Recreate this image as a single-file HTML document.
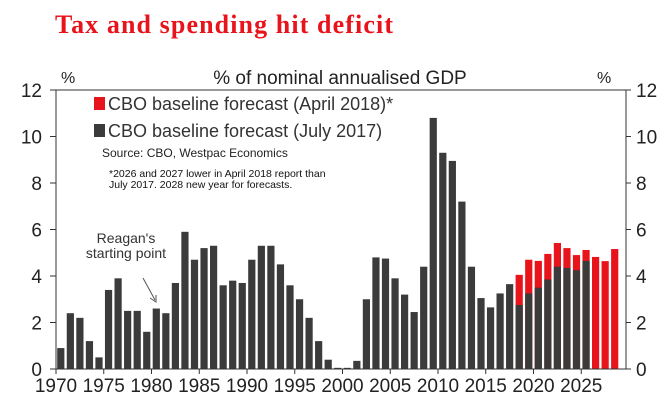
<!DOCTYPE html>
<html><head><meta charset="utf-8"><style>
body{margin:0;background:#fff;}
svg{display:block;font-family:"Liberation Sans",sans-serif;}
</style></head><body>
<svg id="chart" width="672" height="411">
<text x="55" y="33" font-family="Liberation Serif,serif" font-weight="bold" font-size="26" fill="#e8141c" textLength="338" lengthAdjust="spacing">Tax and spending hit deficit</text>
<text x="61" y="83" font-size="16" fill="#222">%</text>
<text x="597" y="83" font-size="16" fill="#222">%</text>
<text x="340" y="84" font-size="19" fill="#222" text-anchor="middle">% of nominal annualised GDP</text>
<g id="bars"></g>
<g id="axes"></g>
<rect x="94" y="97" width="11" height="13" fill="#e8141c"/>
<text x="108" y="110" font-size="18" fill="#333">CBO baseline forecast (April 2018)*</text>
<rect x="94" y="124" width="11" height="13" fill="#3b3b3b"/>
<text x="108" y="137" font-size="18" fill="#333">CBO baseline forecast (July 2017)</text>
<text x="102" y="157" font-size="12" fill="#222">Source: CBO, Westpac Economics</text>
<text x="109" y="177" font-size="10.5" fill="#111">*2026 and 2027 lower in April 2018 report than</text>
<text x="109" y="188" font-size="10.5" fill="#111">July 2017. 2028 new year for forecasts.</text>
<text x="126" y="243" font-size="14" fill="#333" text-anchor="middle">Reagan's</text>
<text x="126" y="258" font-size="14" fill="#333" text-anchor="middle">starting point</text>
<line x1="143" y1="278" x2="155" y2="300" stroke="#555" stroke-width="1"/>
<path d="M150,298 L156,302 L156,295" fill="none" stroke="#555" stroke-width="1"/>
</svg>
<script>
const years = [];
for (let y = 1970; y <= 2028; y++) years.push(y);
const july2017 = [0.9,2.4,2.2,1.2,0.5,3.4,3.9,2.5,2.5,1.6,2.6,2.4,3.7,5.9,4.7,5.2,5.3,3.6,3.8,3.7,4.7,5.3,5.3,4.5,3.6,3.0,2.2,1.2,0.4,0.05,0.05,0.35,3.0,4.8,4.75,3.9,3.2,2.45,4.4,10.8,9.3,8.95,7.2,4.4,3.05,2.65,3.25,3.65,2.75,3.25,3.5,3.85,4.4,4.35,4.25,4.65,0,0,0];
const april2018 = [null,null,null,null,null,null,null,null,null,null,null,null,null,null,null,null,null,null,null,null,null,null,null,null,null,null,null,null,null,null,null,null,null,null,null,null,null,null,null,null,null,null,null,null,null,null,null,null,4.05,4.7,4.65,4.95,5.42,5.2,4.9,5.12,4.82,4.64,5.16];
const yTicks = [0,2,4,6,8,10,12];
const xTickYears = [1970,1975,1980,1985,1990,1995,2000,2005,2010,2015,2020,2025];

const NS = "http://www.w3.org/2000/svg";
const X0 = 56, PER = 9.55, Y0 = 369, PERU = 23.25, XR = 626;
const xs = y => X0 + (y - 1970) * PER;
const ys = v => Y0 - v * PERU;
function mk(tag, attrs, parent) {
  const e = document.createElementNS(NS, tag);
  for (const k in attrs) e.setAttribute(k, attrs[k]);
  parent.appendChild(e);
  return e;
}
const bars = document.getElementById('bars');
const axes = document.getElementById('axes');
years.forEach((yr, i) => {
  const x = xs(yr) + 1.2, w = 7.2;
  const a = april2018[i];
  if (a != null && a > july2017[i]) {
    const r = mk('rect', {x: x, y: ys(a), width: w, height: Y0 - ys(a), fill: '#e8141c'}, bars);
    
    
  }
  if (july2017[i] > 0) {
    const r = mk('rect', {x: x, y: ys(july2017[i]), width: w, height: Y0 - ys(july2017[i]), fill: '#3b3b3b'}, bars);
    
    
  }
});
const la = mk('line', {x1: X0, y1: ys(12), x2: X0, y2: Y0, stroke: '#333'}, axes);


const ra = mk('line', {x1: XR, y1: ys(12), x2: XR, y2: Y0, stroke: '#333'}, axes);


const xa = mk('line', {x1: X0, y1: Y0, x2: XR, y2: Y0, stroke: '#333'}, axes);


const ta = mk('line', {x1: 50, y1: ys(12), x2: XR, y2: ys(12), stroke: '#333'}, axes);


yTicks.forEach(v => {
  mk('line', {x1: 50, y1: ys(v), x2: X0, y2: ys(v), stroke: '#333'}, axes);
  mk('line', {x1: XR, y1: ys(v), x2: XR + 5, y2: ys(v), stroke: '#333'}, axes);
  const t = mk('text', {x: 42, y: ys(v) + 7, 'font-size': 19, fill: '#222', 'text-anchor': 'end'}, axes);
  t.textContent = v;
  
  
  const t2 = mk('text', {x: 636, y: ys(v) + 7, 'font-size': 19, fill: '#222'}, axes);
  t2.textContent = v;
  
  
});
xTickYears.forEach(yr => {
  mk('line', {x1: xs(yr), y1: Y0, x2: xs(yr), y2: Y0 + 5, stroke: '#333'}, axes);
  const t = mk('text', {x: xs(yr), y: Y0 + 23, 'font-size': 19, fill: '#222', 'text-anchor': 'middle'}, axes);
  t.textContent = yr;
  
  
});
</script>
</body></html>
